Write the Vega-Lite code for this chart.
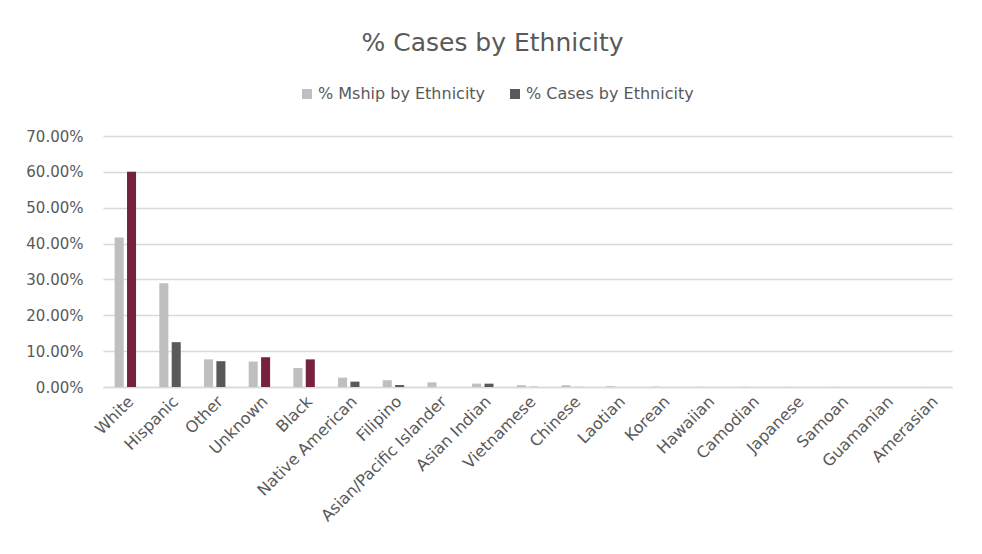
{
  "$schema": "https://vega.github.io/schema/vega-lite/v6.json",
  "width": 849,
  "height": 251,
  "autosize": {"type": "none"},
  "padding": {"left": 103, "top": 136, "right": 30, "bottom": 167},
  "background": "white",
  "title": {
    "text": "% Cases by Ethnicity",
    "font": "DejaVu Sans",
    "fontSize": 25,
    "fontWeight": "normal",
    "color": "#595959",
    "anchor": "middle",
    "dx": -35,
    "offset": 30
  },
  "data": {
    "values": [
      {"ethnicity": "White", "mship": 0.417, "cases": 0.600},
      {"ethnicity": "Hispanic", "mship": 0.289, "cases": 0.125},
      {"ethnicity": "Other", "mship": 0.077, "cases": 0.072},
      {"ethnicity": "Unknown", "mship": 0.071, "cases": 0.083},
      {"ethnicity": "Black", "mship": 0.053, "cases": 0.077},
      {"ethnicity": "Native American", "mship": 0.026, "cases": 0.015},
      {"ethnicity": "Filipino", "mship": 0.019, "cases": 0.0055},
      {"ethnicity": "Asian/Pacific Islander", "mship": 0.013, "cases": 0.0},
      {"ethnicity": "Asian Indian", "mship": 0.0095, "cases": 0.0093},
      {"ethnicity": "Vietnamese", "mship": 0.005, "cases": 0.0005},
      {"ethnicity": "Chinese", "mship": 0.005, "cases": 0.0003},
      {"ethnicity": "Laotian", "mship": 0.002, "cases": 0.0},
      {"ethnicity": "Korean", "mship": 0.001, "cases": 0.0},
      {"ethnicity": "Hawaiian", "mship": 0.0005, "cases": 0.0},
      {"ethnicity": "Camodian", "mship": 0.0005, "cases": 0.0},
      {"ethnicity": "Japanese", "mship": 0.0003, "cases": 0.0},
      {"ethnicity": "Samoan", "mship": 0.0003, "cases": 0.0},
      {"ethnicity": "Guamanian", "mship": 0.0001, "cases": 0.0},
      {"ethnicity": "Amerasian", "mship": 0.0001, "cases": 0.0}
    ]
  },
  "transform": [
    {"fold": ["mship", "cases"], "as": ["series", "pct"]}
  ],
  "mark": {"type": "bar"},
  "encoding": {
    "x": {
      "field": "ethnicity",
      "type": "nominal",
      "sort": null,
      "scale": {"paddingInner": 0.52, "paddingOuter": 0.26},
      "axis": {
        "title": null,
        "labelAngle": -45,
        "labelFont": "DejaVu Sans",
        "labelFontSize": 16,
        "labelColor": "#595959",
        "labelPadding": 6,
        "labelLimit": 300,
        "ticks": false,
        "domainColor": "#D9D9D9",
        "domainWidth": 1.5
      }
    },
    "xOffset": {
      "field": "series",
      "type": "nominal",
      "sort": ["mship", "cases"],
      "scale": {"paddingInner": 0.27, "paddingOuter": 0}
    },
    "y": {
      "field": "pct",
      "type": "quantitative",
      "scale": {"domain": [0, 0.7]},
      "axis": {
        "title": null,
        "format": ".2%",
        "values": [0, 0.1, 0.2, 0.3, 0.4, 0.5, 0.6, 0.7],
        "labelFont": "DejaVu Sans",
        "labelFontSize": 15,
        "labelColor": "#595959",
        "labelPadding": 20,
        "ticks": false,
        "domain": false,
        "gridColor": "#D9D9D9",
        "gridWidth": 1.5
      }
    },
    "color": {
      "condition": {
        "test": "datum.series === 'cases' && datum.cases > datum.mship",
        "value": "#76213F"
      },
      "field": "series",
      "type": "nominal",
      "scale": {"domain": ["mship", "cases"], "range": ["#BFBFBF", "#595959"]},
      "legend": {
        "title": null,
        "orient": "none",
        "direction": "horizontal",
        "legendX": 196,
        "legendY": -50,
        "symbolType": "square",
        "symbolSize": 100,
        "symbolStrokeWidth": 0,
        "labelFont": "DejaVu Sans",
        "labelFontSize": 16,
        "labelColor": "#595959",
        "labelOffset": 3,
        "labelLimit": 300,
        "columnPadding": 21,
        "labelExpr": "datum.value === 'mship' ? '% Mship by Ethnicity' : '% Cases by Ethnicity'"
      }
    }
  },
  "config": {
    "view": {"stroke": null}
  }
}
